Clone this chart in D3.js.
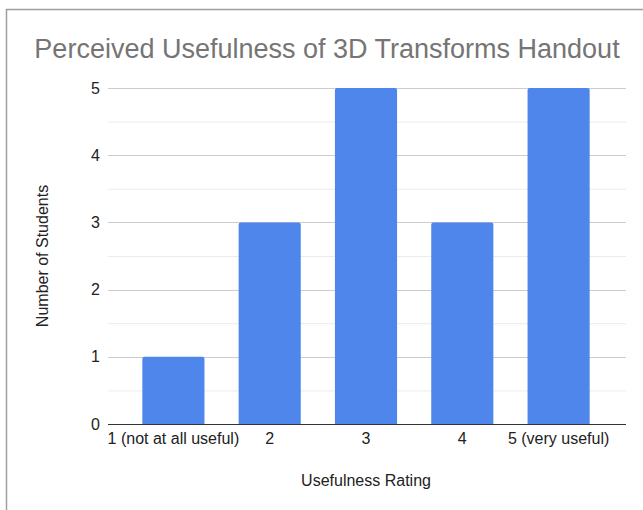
<!DOCTYPE html>
<html>
<head>
<meta charset="utf-8">
<script src="https://cdn.jsdelivr.net/npm/d3@7"></script>
<style>
  html, body { margin: 0; padding: 0; background: #fff; }
  svg { display: block; font-family: "Liberation Sans", Arial, sans-serif; }
</style>
</head>
<body>
<svg id="chart" width="643" height="510"></svg>
<script>
// chart data
var categories = ['1 (not at all useful)', '2', '3', '4', '5 (very useful)'];
var students = [1, 3, 5, 3, 5];
var yTicks = [0, 1, 2, 3, 4, 5];

var svg = d3.select('#chart');

// outer frame (left + top edge only visible)
svg.append('path')
    .attr('d', 'M6.5,510 V9.5 H643')
    .attr('fill', 'none')
    .attr('stroke', '#9e9e9e')
    .attr('stroke-width', 1.5);

var plotLeft = 108, plotRight = 626, plotTop = 88, plotBottom = 424;

var x = d3.scaleBand()
    .domain(categories)
    .range([125, 607])
    .paddingInner(0.355)
    .paddingOuter(0.18);

var y = d3.scaleLinear()
    .domain([0, 5])
    .range([plotBottom, plotTop]);

// minor + major gridlines
var grid = svg.append('g');
d3.range(0.5, 5, 1).forEach(function (v) {
    grid.append('line')
        .attr('x1', plotLeft).attr('x2', plotRight)
        .attr('y1', y(v) + 0.5).attr('y2', y(v) + 0.5)
        .attr('stroke', '#ebebeb');
});
yTicks.slice(1).forEach(function (v) {
    grid.append('line')
        .attr('x1', plotLeft).attr('x2', plotRight)
        .attr('y1', Math.round(y(v)) + 0.5).attr('y2', Math.round(y(v)) + 0.5)
        .attr('stroke', '#cccccc');
});

// y tick labels
svg.append('g').selectAll('text')
    .data(yTicks)
    .enter().append('text')
    .attr('x', 100)
    .attr('y', function (d) { return y(d); })
    .attr('dy', '0.35em')
    .attr('text-anchor', 'end')
    .attr('font-size', 16)
    .attr('fill', '#222')
    .text(function (d) { return d; });

// bars
svg.append('g').selectAll('path')
    .data(students)
    .enter().append('path')
    .attr('fill', '#4f86ec')
    .attr('d', function (d, i) {
        var x0 = x(categories[i]), w = x.bandwidth(), top = y(d), r = 2;
        return 'M' + x0 + ',' + plotBottom +
            'V' + (top + r) +
            'Q' + x0 + ',' + top + ' ' + (x0 + r) + ',' + top +
            'H' + (x0 + w - r) +
            'Q' + (x0 + w) + ',' + top + ' ' + (x0 + w) + ',' + (top + r) +
            'V' + plotBottom + 'Z';
    });

// baseline
svg.append('line')
    .attr('x1', plotLeft).attr('x2', plotRight)
    .attr('y1', plotBottom + 0.5).attr('y2', plotBottom + 0.5)
    .attr('stroke', '#333')
    .attr('stroke-width', 1.2);

// x tick labels
svg.append('g').selectAll('text')
    .data(categories)
    .enter().append('text')
    .attr('x', function (d) { return x(d) + x.bandwidth() / 2; })
    .attr('y', 444)
    .attr('text-anchor', 'middle')
    .attr('font-size', 16)
    .attr('fill', '#222')
    .text(function (d) { return d; });

// title
svg.append('text')
    .attr('x', 327)
    .attr('y', 58)
    .attr('text-anchor', 'middle')
    .attr('font-size', 27)
    .attr('fill', '#757575')
    .text('Perceived Usefulness of 3D Transforms Handout');

// axis titles
svg.append('text')
    .attr('x', 366)
    .attr('y', 486)
    .attr('text-anchor', 'middle')
    .attr('font-size', 16)
    .attr('fill', '#222')
    .text('Usefulness Rating');

svg.append('text')
    .attr('transform', 'translate(42,256) rotate(-90)')
    .attr('dy', '0.35em')
    .attr('text-anchor', 'middle')
    .attr('font-size', 16)
    .attr('fill', '#222')
    .text('Number of Students');
</script>
</body>
</html>
